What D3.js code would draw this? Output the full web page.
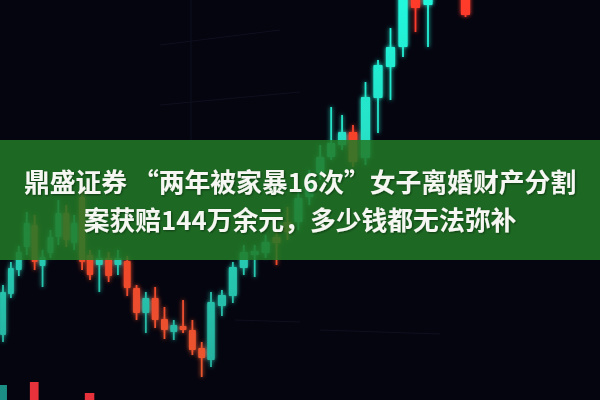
<!DOCTYPE html>
<html>
<head>
<meta charset="utf-8">
<script src="https://cdn.jsdelivr.net/npm/d3@7"></script>
<style>
html,body{margin:0;padding:0;background:#05050f;}
svg{display:block;}
</style>
</head>
<body>
<svg id="chart" width="600" height="400"></svg>
<script>
// ---- data (price units) ----
const days   = [0,1,2,3,4,5,6,7,8,9,10,11,12,13,14,15,16,17,18,19,20,21,22,23,24,25,26,27,28,29,30,31,32,33,34,35,36,37,38,39,40,41,42,43,46];
const opens  = [65,106,130,153,175,134,147,163,187,157,203,145,135,142,135,139,112,87,102,81,68,74,70,52,40,94,104,132,145,147,163,178,178,203,227,243,255,268,242,302,333,353,410,395,410];
const closes = [108,132,148,177,138,143,163,187,160,177,138,125,142,124,142,112,87,102,80,70,75,70,50,42,98,105,133,148,149,158,157,168,202,220,243,257,268,238,303,335,353,410,392,410,385];
const highs  = [115,138,154,188,185,150,170,200,195,185,210,150,150,148,150,144,115,108,113,93,80,100,80,58,108,110,138,155,155,165,170,193,210,230,255,293,285,275,318,340,372,415,415,415,415];
const lows   = [58,102,124,145,130,113,142,155,153,150,130,120,108,118,125,104,80,67,72,61,60,67,45,23,33,84,97,125,123,142,135,160,170,195,220,240,250,233,235,267,300,343,368,353,383];
const volDays   = [0,4,11];
const volValues = [15,18,7];
const titleLines = ["鼎盛证券 “两年被家暴16次”女子离婚财产分割","案获赔144万余元，多少钱都无法弥补"];

const candles = days.map((d,i)=>({d, o:opens[i], c:closes[i], h:highs[i], l:lows[i]}));

const svg = d3.select("#chart");
const W = 600, H = 400;

// scales (perspective-like uneven spacing via polylinear scale)
const x = d3.scaleLinear().domain([0,11,24,37,43]).range([3,90,211,353,428]);
const y = d3.scaleLinear().domain([0,400]).range([400,0]);

const defs = svg.append("defs");
const gUp = defs.append("linearGradient").attr("id","up").attr("gradientUnits","userSpaceOnUse")
  .attr("x1",0).attr("y1",0).attr("x2",0).attr("y2",400);
gUp.append("stop").attr("offset","0%").attr("stop-color","#22f7dc");
gUp.append("stop").attr("offset","55%").attr("stop-color","#27d3b9");
gUp.append("stop").attr("offset","100%").attr("stop-color","#25a898");
const gDn = defs.append("linearGradient").attr("id","dn").attr("gradientUnits","userSpaceOnUse")
  .attr("x1",0).attr("y1",0).attr("x2",0).attr("y2",400);
gDn.append("stop").attr("offset","0%").attr("stop-color","#ff3a2c");
gDn.append("stop").attr("offset","70%").attr("stop-color","#ee4a2c");
gDn.append("stop").attr("offset","100%").attr("stop-color","#e85a30");

const glow = defs.append("filter").attr("id","glow").attr("x","-50%").attr("y","-50%").attr("width","200%").attr("height","200%");
glow.append("feGaussianBlur").attr("in","SourceGraphic").attr("stdDeviation",2.2).attr("result","b");
const fm = glow.append("feMerge");
fm.append("feMergeNode").attr("in","b");
fm.append("feMergeNode").attr("in","SourceGraphic");

const soft = defs.append("filter").attr("id","soft");
soft.append("feGaussianBlur").attr("stdDeviation",0.6);

const shadow = defs.append("filter").attr("id","tshadow").attr("x","-5%").attr("y","-20%").attr("width","110%").attr("height","140%");
shadow.append("feDropShadow").attr("dx",1).attr("dy",1).attr("stdDeviation",1.2).attr("flood-color","#000").attr("flood-opacity",0.45);

// background
svg.append("rect").attr("width",W).attr("height",H).attr("fill","#05050f");

// faint background lines
const bg = svg.append("g").attr("stroke","#15162a").attr("stroke-width",1).attr("opacity",0.6);
bg.append("line").attr("x1",191).attr("x2",191).attr("y1",0).attr("y2",140);
bg.append("line").attr("x1",160).attr("x2",280).attr("y1",45).attr("y2",30);
bg.append("line").attr("x1",160).attr("x2",300).attr("y1",105).attr("y2",92);
bg.append("line").attr("x1",235).attr("x2",300).attr("y1",320).attr("y2",322);
bg.append("line").attr("x1",320).attr("x2",440).attr("y1",330).attr("y2",334);

function step(d){ return x(d+0.5) - x(d-0.5); }

const cg = svg.append("g").attr("filter","url(#glow)");
const cs = cg.selectAll("g.c").data(candles).join("g").attr("class","c");
cs.append("line")
  .attr("x1",d=>x(d.d)).attr("x2",d=>x(d.d))
  .attr("y1",d=>y(d.h)).attr("y2",d=>y(d.l))
  .attr("stroke",d=>d.c>=d.o?"url(#up)":"url(#dn)")
  .attr("stroke-width",1.8);
cs.append("rect")
  .attr("x",d=>x(d.d) - step(d.d)*0.37)
  .attr("width",d=>step(d.d)*0.74)
  .attr("y",d=>y(Math.max(d.o,d.c)))
  .attr("height",d=>Math.max(2, Math.abs(y(d.o)-y(d.c))))
  .attr("rx",1)
  .attr("fill",d=>d.c>=d.o?"url(#up)":"url(#dn)");

// bottom-row bars
const vg = svg.append("g").attr("filter","url(#soft)");
vg.selectAll("rect").data(volDays.map((d,i)=>({d,v:volValues[i],i}))).join("rect")
  .attr("x",d=>x(d.d)-step(d.d)*0.6)
  .attr("width",d=>step(d.d)*1.1)
  .attr("y",d=>y(d.v))
  .attr("height",d=>y(0)-y(d.v)+10)
  .attr("fill",d=>d.i===0?"#1d8f84":"#e8323a");

// banner
svg.append("rect").attr("x",0).attr("y",140).attr("width",W).attr("height",120)
  .attr("fill","#227a27").attr("opacity",0.86);

// title text
const tg = svg.append("g").attr("filter","url(#tshadow)");
tg.selectAll("text").data(titleLines).join("text")
  .attr("x",W/2)
  .attr("y",(d,i)=>192 + i*38)
  .attr("text-anchor","middle")
  .attr("font-family","'Noto Sans CJK SC','Noto Sans',sans-serif")
  .attr("font-weight",700)
  .attr("font-size",25.8)
  .attr("fill","#f6f7f2")
  .text(d=>d);
</script>
</body>
</html>
